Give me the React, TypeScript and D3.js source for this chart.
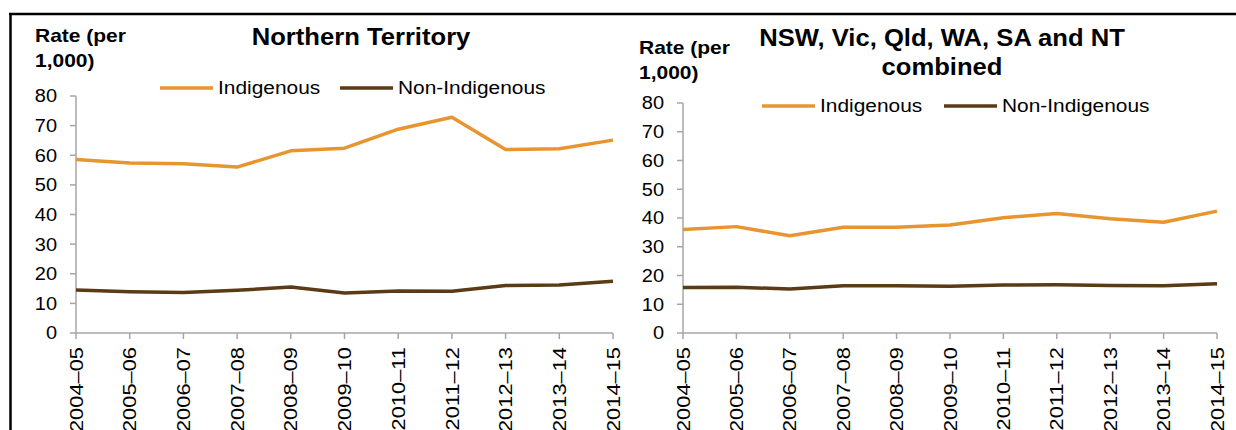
import React from "react";
import * as d3 from "d3";

const years = ["2004–05", "2005–06", "2006–07", "2007–08", "2008–09", "2009–10", "2010–11", "2011–12", "2012–13", "2013–14", "2014–15"];
const yTicks = [0, 10, 20, 30, 40, 50, 60, 70, 80];

const ntIndigenous = [58.6, 57.4, 57.1, 56.0, 61.5, 62.4, 68.8, 72.8, 61.9, 62.2, 65.1];
const ntNonIndigenous = [14.5, 13.9, 13.7, 14.4, 15.5, 13.5, 14.2, 14.1, 16.0, 16.2, 17.5];
const combIndigenous = [36.0, 37.0, 33.8, 36.8, 36.8, 37.6, 40.1, 41.6, 39.7, 38.5, 42.4];
const combNonIndigenous = [15.8, 15.9, 15.3, 16.4, 16.4, 16.3, 16.7, 16.8, 16.5, 16.4, 17.1];

const seriesNames = ["Indigenous", "Non-Indigenous"];
const seriesColors = ["#E8942F", "#5B3A16"];

const FONT = "'Liberation Sans', Arial, sans-serif";
const AXIS = "#A6A6A6";

// text stretched along its advance, like the exported chart
function Txt({ x, y, size, sx = 1.1, bold = false, anchor = "start", rotate = 0, dy, children }: any) {
  return (
    <text
      transform={`translate(${x},${y}) rotate(${rotate}) scale(${sx},1)`}
      fontFamily={FONT}
      fontSize={size}
      fontWeight={bold ? "bold" : "normal"}
      textAnchor={anchor}
      dy={dy}
      fill="#000"
    >
      {children}
    </text>
  );
}

function Panel({ cfg }: any) {
  const x = d3.scalePoint<string>().domain(years).range([cfg.x0, cfg.x1]);
  const y = d3.scaleLinear().domain([0, 80]).range([cfg.yBottom, cfg.yTop]);
  const line = d3.line<number>().x((_, i) => x(years[i]) as number).y(d => y(d));

  return (
    <g>
      {cfg.title.map((t: string, i: number) => (
        <Txt key={t} x={cfg.titleX} y={cfg.titleY + i * 29} size={23.5} sx={1.09} bold anchor="middle">{t}</Txt>
      ))}
      <Txt x={cfg.unitX} y={cfg.unitY} size={17.5} sx={1.2} bold>Rate (per</Txt>
      <Txt x={cfg.unitX} y={cfg.unitY + 25} size={17.5} sx={1.2} bold>1,000)</Txt>

      {/* legend */}
      {seriesNames.map((name, i) => (
        <g key={name}>
          <line x1={cfg.legX[i]} x2={cfg.legX[i] + 53} y1={cfg.legY} y2={cfg.legY} stroke={seriesColors[i]} strokeWidth={3.5} />
          <Txt x={cfg.legX[i] + 58} y={cfg.legY} dy="0.35em" size={18.5} sx={1.13}>{name}</Txt>
        </g>
      ))}

      {/* y axis */}
      <line x1={cfg.x0} x2={cfg.x0} y1={y(80)} y2={y(0)} stroke={AXIS} strokeWidth={1.5} />
      {yTicks.map(t => (
        <g key={t}>
          <line x1={cfg.x0 - 6} x2={cfg.x0} y1={y(t)} y2={y(t)} stroke={AXIS} strokeWidth={1.5} />
          <Txt x={cfg.x0 - 19} y={y(t)} dy="0.35em" size={18.5} sx={1.08} anchor="end">{t}</Txt>
        </g>
      ))}

      {/* x axis */}
      <line x1={cfg.x0} x2={cfg.x1} y1={y(0)} y2={y(0)} stroke={AXIS} strokeWidth={1.5} />
      {years.map(yr => (
        <g key={yr}>
          <line x1={x(yr)} x2={x(yr)} y1={y(0)} y2={y(0) + 6} stroke={AXIS} strokeWidth={1.5} />
          <Txt x={(x(yr) as number)} y={y(0) + 14} dy="0.35em" size={19} sx={1.15} rotate={-90} anchor="end">{yr}</Txt>
        </g>
      ))}

      {cfg.series.map((vals: number[], i: number) => (
        <path key={i} d={line(vals) as string} fill="none" stroke={seriesColors[i]} strokeWidth={3.5} strokeLinejoin="round" />
      ))}
    </g>
  );
}

const panels = [
  {
    title: ["Northern Territory"], titleX: 361, titleY: 45,
    unitX: 35, unitY: 42,
    legX: [160, 340], legY: 88,
    x0: 76, x1: 613, yTop: 96, yBottom: 333,
    series: [ntIndigenous, ntNonIndigenous],
  },
  {
    title: ["NSW, Vic, Qld, WA, SA and NT", "combined"], titleX: 942, titleY: 46,
    unitX: 639, unitY: 54,
    legX: [762, 944], legY: 106,
    x0: 683, x1: 1217, yTop: 103, yBottom: 333,
    series: [combIndigenous, combNonIndigenous],
  },
];

export default function App() {
  return (
    <div style={{ position: "absolute", left: 0, top: 0 }}>
      <svg width={1236} height={430} style={{ display: "block", background: "#fff" }}>
        <line x1={9} x2={1236} y1={14} y2={14} stroke="#000" strokeWidth={2.5} />
        <line x1={10.5} x2={10.5} y1={13} y2={430} stroke="#000" strokeWidth={2.5} />
        {panels.map((p, i) => <Panel key={i} cfg={p} />)}
      </svg>
    </div>
  );
}
